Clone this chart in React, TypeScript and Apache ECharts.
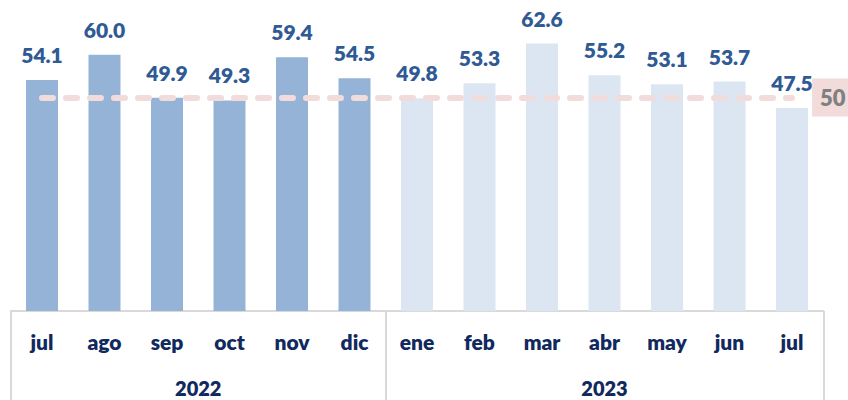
import React, { useEffect, useRef } from "react";
import * as echarts from "echarts";

const months = ["jul", "ago", "sep", "oct", "nov", "dic", "ene", "feb", "mar", "abr", "may", "jun", "jul"];
const monthYears = ["2022", "2022", "2022", "2022", "2022", "2022", "2023", "2023", "2023", "2023", "2023", "2023", "2023"];
const values = [54.1, 60.0, 49.9, 49.3, 59.4, 54.5, 49.8, 53.3, 62.6, 55.2, 53.1, 53.7, 47.5];
const threshold = 50;
const yearLabels = ["2022", "2023"];
const yearCenters = [2.5, 9]; // category-index centres of each year group
const yearBoundaries = [-0.5, 5.5, 12.5];

const colorByYear: Record<string, string> = { "2022": "#95B3D7", "2023": "#DCE6F2" };
const WEIGHT = 800;

export default function App() {
  const ref = useRef<HTMLDivElement>(null);
  useEffect(() => {
    document.body.style.margin = "0";
    if (!ref.current) return;
    const chart = echarts.init(ref.current, undefined, { renderer: "svg" });
    const keys = months.map((m, i) => `${monthYears[i]}-${m}`);
    chart.setOption({
      animation: false,
      grid: { left: 10.75, right: 24.75, top: 12, bottom: 89, containLabel: false },
      xAxis: [
        {
          type: "category",
          data: keys,
          axisLine: { show: true, lineStyle: { color: "#D9D9D9", width: 2 } },
          axisTick: { show: false },
          axisLabel: {
            formatter: (v: string) => v.split("-")[1],
            fontFamily: "Lato",
            fontWeight: WEIGHT,
            fontSize: 21,
            color: "#10295E",
            margin: 20,
            interval: 0,
          },
        },
        {
          type: "value",
          position: "bottom",
          min: -0.5,
          max: 12.5,
          axisLine: { show: false },
          splitLine: { show: false },
          axisTick: {
            show: true,
            customValues: yearBoundaries,
            length: 89,
            lineStyle: { color: "#D9D9D9", width: 2 },
          },
          axisLabel: {
            customValues: yearCenters,
            formatter: (v: number) => yearLabels[yearCenters.indexOf(v)] ?? "",
            fontFamily: "Lato",
            fontWeight: WEIGHT,
            fontSize: 20,
            color: "#10295E",
            margin: 67,
          },
        },
      ],
      yAxis: { type: "value", min: 0, max: 70, show: false },
      series: [
        {
          type: "bar",
          xAxisIndex: 0,
          barWidth: 32,
          data: values.map((v, i) => ({ value: v, itemStyle: { color: colorByYear[monthYears[i]] } })),
          label: {
            show: true,
            position: "top",
            distance: 15,
            formatter: (p: any) => Number(p.value).toFixed(1),
            fontFamily: "Lato",
            fontWeight: WEIGHT,
            fontSize: 21,
            color: "#2F5A94",
          },
          markLine: {
            silent: true,
            symbol: "none",
            lineStyle: { color: "#F2DCDB", width: 6, type: [11, 13], cap: "round" },
            label: {
              show: true,
              position: "end",
              formatter: String(threshold),
              fontFamily: "Lato",
              fontWeight: WEIGHT,
              fontSize: 22,
              color: "#808080",
              backgroundColor: "#F2DCDB",
              padding: [8, 8, 8, 8],
              distance: 20,
            },
            data: [[{ coord: [0, threshold] }, { coord: [values.length - 1, threshold] }]],
          },
        },
      ],
    });
    return () => chart.dispose();
  }, []);
  return <div ref={ref} style={{ width: 848, height: 400 }} />;
}
